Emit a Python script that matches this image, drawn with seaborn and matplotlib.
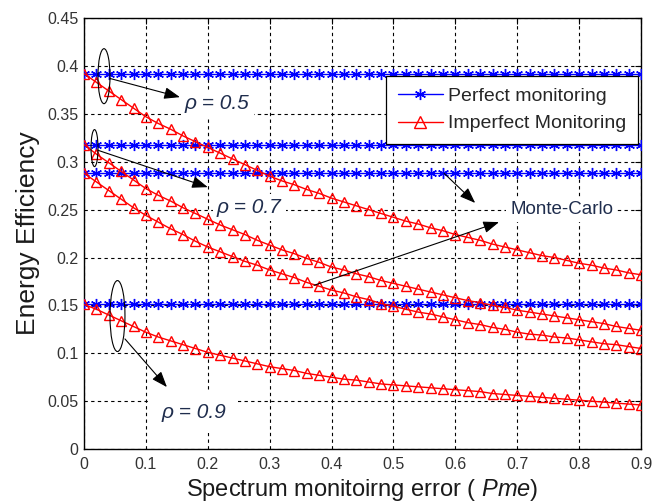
import matplotlib
matplotlib.use("Agg")
import matplotlib.pyplot as plt
from matplotlib.patches import Ellipse
from matplotlib.lines import Line2D
import seaborn as sns
import pandas as pd

# ---------------- data ----------------
pme = [round(0.02 * i, 2) for i in range(46)]

perfect_levels = [0.392, 0.318, 0.288, 0.151]

imperfect_rho05 = [0.392, 0.383, 0.374, 0.365, 0.356, 0.347, 0.340, 0.334, 0.327, 0.321,
                   0.315, 0.309, 0.303, 0.297, 0.291, 0.285, 0.280, 0.276, 0.271, 0.267,
                   0.262, 0.258, 0.254, 0.250, 0.246, 0.242, 0.238, 0.235, 0.231, 0.228,
                   0.224, 0.221, 0.218, 0.214, 0.211, 0.208, 0.205, 0.202, 0.200, 0.197,
                   0.194, 0.192, 0.189, 0.187, 0.184, 0.182]
imperfect_rho07a = [0.318, 0.308, 0.299, 0.290, 0.281, 0.272, 0.265, 0.259, 0.252, 0.246,
                    0.240, 0.234, 0.229, 0.224, 0.218, 0.213, 0.208, 0.204, 0.199, 0.195,
                    0.190, 0.187, 0.183, 0.180, 0.176, 0.173, 0.170, 0.167, 0.164, 0.161,
                    0.158, 0.155, 0.153, 0.150, 0.148, 0.145, 0.143, 0.141, 0.139, 0.137,
                    0.135, 0.133, 0.131, 0.128, 0.126, 0.124]
imperfect_rho07b = [0.288, 0.279, 0.270, 0.261, 0.252, 0.244, 0.237, 0.230, 0.224, 0.217,
                    0.211, 0.206, 0.201, 0.196, 0.192, 0.187, 0.183, 0.179, 0.174, 0.170,
                    0.166, 0.163, 0.159, 0.156, 0.152, 0.149, 0.146, 0.143, 0.141, 0.138,
                    0.135, 0.132, 0.130, 0.127, 0.125, 0.122, 0.120, 0.119, 0.117, 0.116,
                    0.114, 0.112, 0.110, 0.109, 0.107, 0.105]
imperfect_rho09 = [0.151, 0.146, 0.140, 0.134, 0.128, 0.122, 0.117, 0.113, 0.109, 0.105,
                   0.101, 0.098, 0.095, 0.092, 0.089, 0.086, 0.084, 0.082, 0.079, 0.077,
                   0.075, 0.073, 0.072, 0.070, 0.068, 0.067, 0.066, 0.065, 0.064, 0.063,
                   0.062, 0.061, 0.060, 0.058, 0.057, 0.056, 0.055, 0.054, 0.053, 0.052,
                   0.051, 0.050, 0.049, 0.048, 0.047, 0.046]

xticks = [0, 0.1, 0.2, 0.3, 0.4, 0.5, 0.6, 0.7, 0.8, 0.9]
xtick_labels = ["0", "0.1", "0.2", "0.3", "0.4", "0.5", "0.6", "0.7", "0.8", "0.9"]
yticks = [0, 0.05, 0.1, 0.15, 0.2, 0.25, 0.3, 0.35, 0.4, 0.45]
ytick_labels = ["0", "0.05", "0.1", "0.15", "0.2", "0.25", "0.3", "0.35", "0.4", "0.45"]

legend_labels = ["Perfect monitoring", "Imperfect Monitoring"]

# ---------------- style ----------------
sns.set_theme(style="white")
plt.rcParams["font.family"] = ["Liberation Sans", "DejaVu Sans"]
plt.rcParams["mathtext.fontset"] = "custom"
plt.rcParams["mathtext.rm"] = "Liberation Sans"
plt.rcParams["mathtext.it"] = "Liberation Sans:italic"

fig = plt.figure(figsize=(6.64, 5.04), dpi=100)
ax = fig.add_axes([0.1265, 0.109, 0.839, 0.855])

blue = "#0000ff"
red = "#ff0000"
star = (6, 2, 0)

imperfect_curves = [imperfect_rho05, imperfect_rho07a, imperfect_rho07b, imperfect_rho09]

for lvl in perfect_levels:
    df = pd.DataFrame({"Pme": pme, "EE": [lvl] * len(pme)})
    sns.lineplot(data=df, x="Pme", y="EE", ax=ax, color=blue, lw=1.0,
                 marker=star, markersize=8, markeredgewidth=1.0,
                 markeredgecolor=blue, zorder=3)

for curve in imperfect_curves:
    df = pd.DataFrame({"Pme": pme, "EE": curve})
    sns.lineplot(data=df, x="Pme", y="EE", ax=ax, color=red, lw=1.0,
                 marker="^", markersize=7, markerfacecolor="none",
                 markeredgecolor=red, markeredgewidth=1.0, zorder=4)

ax.set_xlim(0, 0.9)
ax.set_ylim(0, 0.45)
ax.set_xticks(xticks)
ax.set_xticklabels(xtick_labels)
ax.set_yticks(yticks)
ax.set_yticklabels(ytick_labels)
ax.grid(True, color="black", linestyle=(0, (3, 3)), linewidth=0.8)
for s in ax.spines.values():
    s.set_color("black")
    s.set_linewidth(1.0)
ax.tick_params(direction="in", length=4, width=0.8, top=True, right=True,
               colors="black", labelcolor="#333333", labelsize=11.5)
ax.tick_params(axis="x", pad=6)
ax.tick_params(axis="y", pad=4)

ax.set_xlabel("Spectrum monitoirng error ( $\\mathit{Pme}$)", fontsize=17, color="#1a1a1a", labelpad=3)
ax.set_ylabel("Energy Efficiency", fontsize=19, color="#1a1a1a", labelpad=5)

# legend
h1 = Line2D([], [], color=blue, lw=1.0, marker=star, markersize=8, markeredgecolor=blue)
h2 = Line2D([], [], color=red, lw=1.0, marker="^", markersize=8,
            markerfacecolor="none", markeredgecolor=red)
leg = ax.legend([h1, h2], legend_labels, loc="upper right",
                bbox_to_anchor=(0.995, 0.866), fontsize=14, frameon=True,
                fancybox=False, edgecolor="black", framealpha=1, numpoints=1,
                handlelength=2.3, borderpad=0.6, labelspacing=0.5,
                handletextpad=0.3, borderaxespad=0)
leg.get_frame().set_linewidth(0.9)
leg.set_zorder(6)

# annotations
txt_color = "#1f2d4d"
bbox = dict(facecolor="white", edgecolor="none", pad=3)
ax.text(0.215, 0.361, "ρ = 0.5", fontsize=15, style="italic", color=txt_color,
        ha="center", va="center", bbox=bbox, zorder=2.5)
ax.text(0.267, 0.252, "ρ = 0.7", fontsize=15, style="italic", color=txt_color,
        ha="center", va="center", bbox=bbox, zorder=2.5)
ax.text(0.178, 0.0386, "ρ = 0.9", fontsize=15, style="italic", color=txt_color,
        ha="center", va="center", bbox=dict(facecolor="white", edgecolor="none", pad=8), zorder=2.5)
ax.text(0.772, 0.250, "Monte-Carlo", fontsize=13.5, color=txt_color,
        ha="center", va="center", bbox=bbox, zorder=2.5)

for (cx, cy, w, h) in [(0.0323, 0.3894, 0.0194, 0.0574),
                       (0.0170, 0.3143, 0.0113, 0.0386),
                       (0.0541, 0.1389, 0.0242, 0.0741)]:
    ax.add_patch(Ellipse((cx, cy), w, h, fill=False, edgecolor="black", lw=0.8, zorder=5))

arrows = [((0.042, 0.387), (0.155, 0.3675)),
          ((0.0226, 0.312), (0.200, 0.2735)),
          ((0.0662, 0.115), (0.134, 0.0647)),
          ((0.5817, 0.288), (0.632, 0.257)),
          ((0.3716, 0.171), (0.6705, 0.237))]
for tail, head in arrows:
    ax.annotate("", xy=head, xytext=tail,
                arrowprops=dict(arrowstyle="-|>,head_length=0.8,head_width=0.3",
                                color="black", lw=0.8, shrinkA=0, shrinkB=0),
                zorder=5)

fig.savefig("out.png", dpi=100, facecolor="white")
